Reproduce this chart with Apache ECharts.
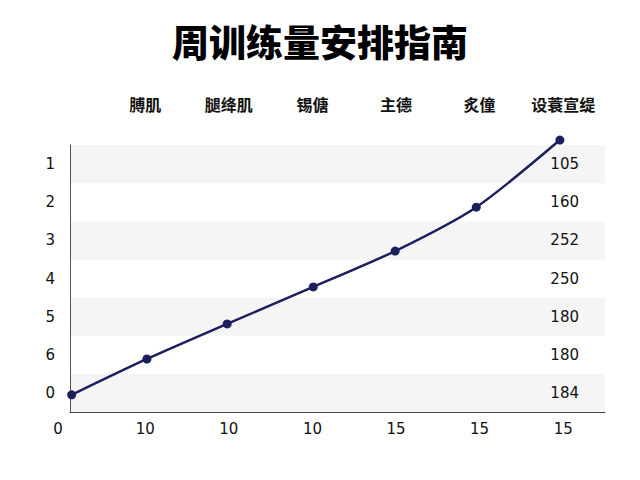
<!DOCTYPE html>
<html>
<head>
<meta charset="utf-8">
<script src="https://cdn.jsdelivr.net/npm/echarts@6/dist/echarts.min.js"></script>
<style>
  html, body { margin: 0; padding: 0; background: #fff; }
  #chart { width: 640px; height: 480px; }
</style>
</head>
<body>
<div id="chart"></div>
<script>
(function() {
  var titleText = '周训练量安排指南';
  var topLabels = ['', '膊肌', '腿绛肌', '锡傏', '主德', '炙僮', '设蓑宣缇'];
  var bottomLabels = ['0', '10', '10', '10', '15', '15', '15'];
  var tickPositions = [0.1, 1, 2, 3, 4, 5, 6];
  // rows, bottom to top
  var rowLabels = ['0', '6', '5', '4', '3', '2', '1'];
  var rowValues = ['184', '180', '180', '250', '252', '160', '105'];
  // line points
  var pointX = [0.12, 1.02, 1.98, 3.01, 3.99, 4.96, 5.96];
  var pointY = [0.45, 1.39, 2.31, 3.28, 4.22, 5.37, 7.13];

  var ink = '#111';
  var navy = '#1b1f5c';
  var font = '"DejaVu Sans", sans-serif';

  var lineData = pointX.map(function(x, i) { return [x, pointY[i]]; });

  var chart = echarts.init(document.getElementById('chart'), null, { renderer: 'svg' });
  chart.setOption({
    animation: false,
    title: {
      text: titleText,
      left: 'center',
      top: 17,
      textStyle: { fontSize: 37, fontWeight: 900, color: '#000', fontFamily: '"Noto Sans CJK SC", sans-serif' }
    },
    grid: { left: 70, right: 35, top: 145, bottom: 68 },
    xAxis: [{
      type: 'value',
      position: 'bottom',
      min: 0.1,
      max: 6.5,
      axisLine: { show: true, lineStyle: { color: '#444', width: 1 } },
      axisTick: { show: false },
      splitLine: { show: false },
      axisLabel: {
        customValues: tickPositions,
        margin: 9,
        color: ink,
        fontSize: 15,
        fontFamily: font,
        formatter: function(v) {
          var i = tickPositions.indexOf(v);
          if (i === 0) return '{first|' + bottomLabels[0] + '}';
          return i >= 0 ? bottomLabels[i] : '';
        },
        rich: {
          first: { padding: [0, 24, 0, 0], fontSize: 15, color: ink, fontFamily: font }
        }
      }
    }, {
      type: 'value',
      position: 'top',
      min: 0.1,
      max: 6.5,
      axisLine: { show: false },
      axisTick: { show: false },
      splitLine: { show: false },
      axisLabel: {
        customValues: [1, 2, 3, 4, 5, 6],
        margin: 33,
        color: ink,
        fontSize: 16,
        fontWeight: 'bold',
        fontFamily: '"Noto Sans CJK SC", sans-serif',
        formatter: function(v) { return topLabels[Math.round(v)] || ''; }
      }
    }],
    yAxis: [{
      type: 'category',
      position: 'left',
      data: rowLabels,
      axisLine: { show: true, lineStyle: { color: '#555', width: 1 } },
      axisTick: { show: false },
      splitLine: { show: false },
      splitArea: { show: true, areaStyle: { color: ['#f5f5f6', '#ffffff'] } },
      axisLabel: { margin: 15, color: ink, fontSize: 15, fontFamily: font }
    }, {
      type: 'category',
      position: 'right',
      data: rowValues,
      axisLine: { show: false },
      axisTick: { show: false },
      splitLine: { show: false },
      axisLabel: { inside: true, margin: 26, color: ink, fontSize: 15, fontFamily: font }
    }, {
      type: 'value',
      min: 0,
      max: 7,
      show: false
    }],
    series: [{
      type: 'line',
      xAxisIndex: 0,
      yAxisIndex: 2,
      data: lineData,
      clip: false,
      smooth: 0.25,
      symbol: 'circle',
      symbolSize: 9,
      lineStyle: { color: navy, width: 2.5 },
      itemStyle: { color: navy }
    }]
  });
  window.addEventListener('resize', function() { chart.resize(); });
})();
</script>
</body>
</html>
